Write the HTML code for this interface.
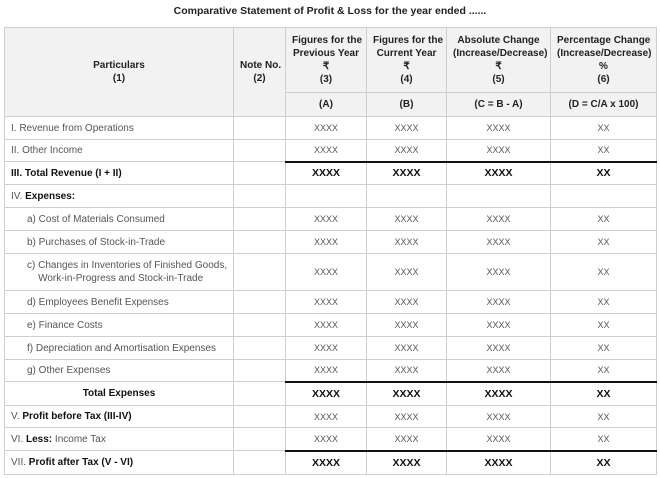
<!DOCTYPE html>
<html><head><meta charset="utf-8"><style>
body{margin:0;background:#fff;font-family:"Liberation Sans",sans-serif;}
.t{position:absolute;top:5px;left:0;width:660px;text-align:center;font-size:10.5px;font-weight:bold;color:#222;}
table{position:absolute;left:4px;top:27px;border-collapse:collapse;table-layout:fixed;width:652px;font-size:10px;color:#555;}
td,th{border:1px solid #cfcfcf;padding:0 6px;white-space:nowrap;overflow:hidden;}
th{background:#f2f2f2;color:#222;font-weight:bold;text-align:center;line-height:13px;font-size:10px;}
td.n{text-align:center;font-size:9px;}
tr.b td.n{color:#111;font-weight:bold;font-size:10.5px;}
tr.k td.n{border-top:2px solid #111;}
b{color:#111;}
.i{padding-left:22px;}
</style></head><body>
<div class="t">Comparative Statement of Profit &amp; Loss for the year ended ......</div>
<table>
<colgroup><col style="width:229px"><col style="width:52px"><col style="width:81px"><col style="width:80px"><col style="width:104px"><col style="width:106px"></colgroup>
<tr style="height:65px"><th rowspan="2">Particulars<br>(1)</th><th rowspan="2">Note No.<br>(2)</th><th>Figures for the<br>Previous Year<br>₹<br>(3)</th><th>Figures for the<br>Current Year<br>₹<br>(4)</th><th>Absolute Change<br>(Increase/Decrease)<br>₹<br>(5)</th><th>Percentage Change<br>(Increase/Decrease)<br>%<br>(6)</th></tr>
<tr style="height:24px"><th>(A)</th><th>(B)</th><th>(C = B - A)</th><th>(D = C/A x 100)</th></tr>
<tr style="height:23px"><td>I. Revenue from Operations</td><td></td><td class="n">XXXX</td><td class="n">XXXX</td><td class="n">XXXX</td><td class="n">XX</td></tr>
<tr style="height:22px"><td>II. Other Income</td><td></td><td class="n">XXXX</td><td class="n">XXXX</td><td class="n">XXXX</td><td class="n">XX</td></tr>
<tr class="b k" style="height:23px"><td><b>III. Total Revenue (I + II)</b></td><td></td><td class="n">XXXX</td><td class="n">XXXX</td><td class="n">XXXX</td><td class="n">XX</td></tr>
<tr style="height:23px"><td>IV. <b>Expenses:</b></td><td></td><td></td><td></td><td></td><td></td></tr>
<tr style="height:23px"><td class="i">a) Cost of Materials Consumed</td><td></td><td class="n">XXXX</td><td class="n">XXXX</td><td class="n">XXXX</td><td class="n">XX</td></tr>
<tr style="height:23px"><td class="i">b) Purchases of Stock-in-Trade</td><td></td><td class="n">XXXX</td><td class="n">XXXX</td><td class="n">XXXX</td><td class="n">XX</td></tr>
<tr style="height:37px"><td class="i" style="line-height:13px">c) Changes in Inventories of Finished Goods,<br>&nbsp;&nbsp;&nbsp;&nbsp;Work-in-Progress and Stock-in-Trade</td><td></td><td class="n">XXXX</td><td class="n">XXXX</td><td class="n">XXXX</td><td class="n">XX</td></tr>
<tr style="height:23px"><td class="i">d) Employees Benefit Expenses</td><td></td><td class="n">XXXX</td><td class="n">XXXX</td><td class="n">XXXX</td><td class="n">XX</td></tr>
<tr style="height:23px"><td class="i">e) Finance Costs</td><td></td><td class="n">XXXX</td><td class="n">XXXX</td><td class="n">XXXX</td><td class="n">XX</td></tr>
<tr style="height:23px"><td class="i">f) Depreciation and Amortisation Expenses</td><td></td><td class="n">XXXX</td><td class="n">XXXX</td><td class="n">XXXX</td><td class="n">XX</td></tr>
<tr style="height:22px"><td class="i">g) Other Expenses</td><td></td><td class="n">XXXX</td><td class="n">XXXX</td><td class="n">XXXX</td><td class="n">XX</td></tr>
<tr class="b k" style="height:24px"><td style="text-align:center"><b>Total Expenses</b></td><td></td><td class="n">XXXX</td><td class="n">XXXX</td><td class="n">XXXX</td><td class="n">XX</td></tr>
<tr style="height:22px"><td>V. <b>Profit before Tax (III-IV)</b></td><td></td><td class="n">XXXX</td><td class="n">XXXX</td><td class="n">XXXX</td><td class="n">XX</td></tr>
<tr style="height:23px"><td>VI. <b>Less:</b> Income Tax</td><td></td><td class="n">XXXX</td><td class="n">XXXX</td><td class="n">XXXX</td><td class="n">XX</td></tr>
<tr class="b k" style="height:24px"><td>VII. <b>Profit after Tax (V - VI)</b></td><td></td><td class="n">XXXX</td><td class="n">XXXX</td><td class="n">XXXX</td><td class="n">XX</td></tr>
</table>
</body></html>
